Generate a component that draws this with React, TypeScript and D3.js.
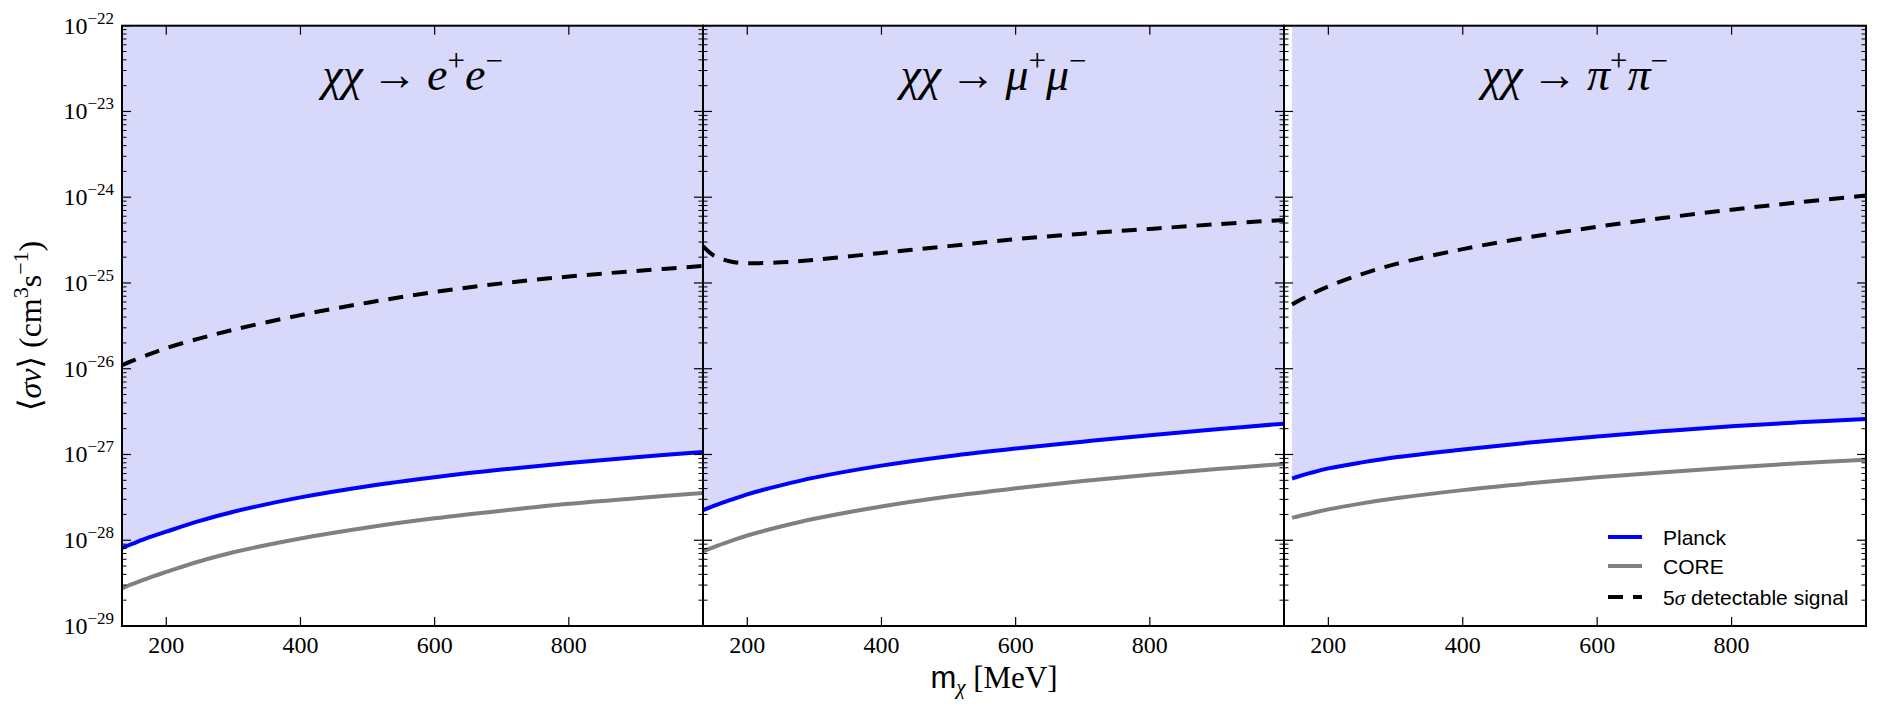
import React from "react";
import * as d3 from "d3";

// dark matter mass grid [MeV]
const MASS = [134, 150, 175, 200, 250, 300, 400, 500, 600, 700, 800, 900, 1000];
// pion channel opens a little higher
const MASS_PI = [146, 150, 175, 200, 250, 300, 400, 500, 600, 700, 800, 900, 1000];

// <sigma v> in cm^3/s
const planckEE = [8.13e-29, 9.12e-29, 1.084e-28, 1.26e-28, 1.68e-28, 2.15e-28, 3.16e-28, 4.27e-28, 5.43e-28, 6.67e-28, 7.96e-28, 9.31e-28, 1.07e-27];
const coreEE = [2.75e-29, 3.09e-29, 3.67e-29, 4.27e-29, 5.69e-29, 7.24e-29, 1.05e-28, 1.41e-28, 1.8e-28, 2.21e-28, 2.66e-28, 3.09e-28, 3.55e-28];
const signalEE = [1.1e-26, 1.24e-26, 1.48e-26, 1.74e-26, 2.26e-26, 2.85e-26, 4.22e-26, 5.89e-26, 7.85e-26, 9.89e-26, 1.19e-25, 1.38e-25, 1.58e-25];

const planckMM = [2.24e-28, 2.51e-28, 2.95e-28, 3.43e-28, 4.37e-28, 5.37e-28, 7.41e-28, 9.55e-28, 1.175e-27, 1.41e-27, 1.68e-27, 1.97e-27, 2.29e-27];
const coreMM = [7.41e-29, 8.32e-29, 9.77e-29, 1.135e-28, 1.445e-28, 1.78e-28, 2.48e-28, 3.24e-28, 4.03e-28, 4.9e-28, 5.82e-28, 6.76e-28, 7.76e-28];
const signalMM = [2.69e-25, 2.09e-25, 1.78e-25, 1.7e-25, 1.74e-25, 1.86e-25, 2.24e-25, 2.69e-25, 3.24e-25, 3.76e-25, 4.27e-25, 4.84e-25, 5.43e-25];

const planckPP = [5.25e-28, 5.37e-28, 6.14e-28, 6.89e-28, 8.09e-28, 9.29e-28, 1.143e-27, 1.38e-27, 1.62e-27, 1.875e-27, 2.14e-27, 2.37e-27, 2.6e-27];
const corePP = [1.82e-28, 1.86e-28, 2.07e-28, 2.29e-28, 2.69e-28, 3.08e-28, 3.84e-28, 4.61e-28, 5.42e-28, 6.22e-28, 7.06e-28, 7.89e-28, 8.71e-28];
const signalPP = [5.62e-26, 5.86e-26, 7.41e-26, 9.12e-26, 1.27e-25, 1.66e-25, 2.48e-25, 3.43e-25, 4.52e-25, 5.75e-25, 7.16e-25, 8.71e-25, 1.047e-24];

const X_TICKS = [200, 400, 600, 800];
const Y_DECADES = [-29, -28, -27, -26, -25, -24, -23, -22];
const LEGEND = ["Planck", "CORE", "5σ detectable signal"];

const channels = [
  { final: ["e", "e"], mass: MASS, planck: planckEE, core: coreEE, signal: signalEE },
  { final: ["μ", "μ"], mass: MASS, planck: planckMM, core: coreMM, signal: signalMM },
  { final: ["π", "π"], mass: MASS_PI, planck: planckPP, core: corePP, signal: signalPP },
];

const serif = "'Liberation Serif', 'DejaVu Serif', serif";
const sans = "'Liberation Sans', Arial, sans-serif";

export default function App() {
  const width = 1882;
  const height = 715;
  const top = 25.7;
  const bottom = 626;
  const edges = [122, 703, 1284, 1866];

  const y = d3.scaleLog().domain([1e-29, 1e-22]).range([bottom, top]);

  const minor: number[] = [];
  Y_DECADES.slice(0, -1).forEach((d) => {
    for (let k = 2; k <= 9; k++) minor.push(k * Math.pow(10, d));
  });

  const curve = d3.curveCatmullRom.alpha(0.5);

  return (
    <svg width={width} height={height} style={{ position: "absolute", left: 0, top: 0, background: "white" }}>
      <defs>
        {channels.map((c, i) => (
          <clipPath id={`clip${i}`} key={i}>
            <rect x={edges[i]} y={top} width={edges[i + 1] - edges[i]} height={bottom - top} />
          </clipPath>
        ))}
      </defs>

      {channels.map((c, i) => {
        const x0 = edges[i];
        const x1 = edges[i + 1];
        const x = d3.scaleLinear().domain([134, 1000]).range([x0, x1]);
        const pts = (vals: number[]) => c.mass.map((m, j) => [m, vals[j]] as [number, number]);
        const line = d3
          .line<[number, number]>()
          .x((d) => x(d[0]))
          .y((d) => y(d[1]))
          .curve(curve);
        const area = d3
          .area<[number, number]>()
          .x((d) => x(d[0]))
          .y0((d) => y(d[1]))
          .y1(top)
          .curve(curve);
        const cx = (x0 + x1) / 2;
        return (
          <g key={i}>
            <g clipPath={`url(#clip${i})`}>
              <path d={area(pts(c.planck)) || ""} fill="#d8d8fb" />
              <path d={line(pts(c.core)) || ""} fill="none" stroke="#808080" strokeWidth={4} />
              <path d={line(pts(c.planck)) || ""} fill="none" stroke="#0000ff" strokeWidth={4} />
              <path
                d={line(pts(c.signal)) || ""}
                fill="none"
                stroke="#000"
                strokeWidth={4}
                strokeDasharray="15 10"
              />
            </g>

            {/* reaction label */}
            <text x={cx} y={90} textAnchor="middle" fontFamily={serif} fontSize={46} fill="#000">
              <tspan fontStyle="italic">χχ</tspan>
              <tspan>{"\u2009→\u2009"}</tspan>
              <tspan fontStyle="italic">{c.final[0]}</tspan>
              <tspan dy={-19} fontSize={31}>+</tspan>
              <tspan dy={19} fontStyle="italic">{c.final[1]}</tspan>
              <tspan dy={-19} fontSize={31}>−</tspan>
            </text>

            {/* y ticks, both sides, pointing inward */}
            {Y_DECADES.map((d) => (
              <g key={`M${d}`} stroke="#000" strokeWidth={1.2}>
                <line x1={x0} x2={x0 + 9} y1={y(Math.pow(10, d))} y2={y(Math.pow(10, d))} />
                <line x1={x1} x2={x1 - 9} y1={y(Math.pow(10, d))} y2={y(Math.pow(10, d))} />
              </g>
            ))}
            {minor.map((v, k) => (
              <g key={`m${k}`} stroke="#000" strokeWidth={1}>
                <line x1={x0} x2={x0 + 4.5} y1={y(v)} y2={y(v)} />
                <line x1={x1} x2={x1 - 4.5} y1={y(v)} y2={y(v)} />
              </g>
            ))}

            {/* x ticks top and bottom */}
            {X_TICKS.map((t) => (
              <g key={t}>
                <line x1={x(t)} x2={x(t)} y1={bottom} y2={bottom - 9} stroke="#000" strokeWidth={1.2} />
                <line x1={x(t)} x2={x(t)} y1={top} y2={top + 9} stroke="#000" strokeWidth={1.2} />
                <text x={x(t)} y={653} textAnchor="middle" fontFamily={serif} fontSize={24} fill="#000">
                  {t}
                </text>
              </g>
            ))}

            <rect x={x0} y={top} width={x1 - x0} height={bottom - top} fill="none" stroke="#000" strokeWidth={2} />
          </g>
        );
      })}

      {/* y tick labels on the first panel only */}
      {Y_DECADES.map((d) => (
        <text
          key={d}
          x={114}
          y={y(Math.pow(10, d)) + 8}
          textAnchor="end"
          fontFamily={serif}
          fontSize={24}
          fill="#000"
        >
          10
          <tspan dy={-10} fontSize={17}>
            {`−${-d}`}
          </tspan>
        </text>
      ))}

      {/* axis titles */}
      <text
        transform={`translate(41,${(top + bottom) / 2}) rotate(-90)`}
        textAnchor="middle"
        fontFamily={serif}
        fontSize={32}
        fill="#000"
      >
        ⟨<tspan fontStyle="italic">σv</tspan>⟩ (cm
        <tspan dy={-13} fontSize={22}>3</tspan>
        <tspan dy={13}>s</tspan>
        <tspan dy={-13} fontSize={22}>−1</tspan>
        <tspan dy={13}>)</tspan>
      </text>

      <text x={994} y={688} textAnchor="middle" fontFamily={serif} fontSize={31} fill="#000">
        <tspan fontFamily={sans}>m</tspan>
        <tspan dy={6} fontSize={21} fontStyle="italic">χ</tspan>
        <tspan dy={-6}> [MeV]</tspan>
      </text>

      {/* legend */}
      <g>
        {LEGEND.map((label, i) => {
          const ly = [537, 566, 597][i];
          return (
            <g key={label}>
              <line
                x1={1608}
                x2={1642}
                y1={ly}
                y2={ly}
                stroke={["#0000ff", "#808080", "#000"][i]}
                strokeWidth={4}
                strokeDasharray={i === 2 ? "15 10" : undefined}
              />
              <text x={1663} y={ly + 7.5} fontFamily={sans} fontSize={21} fill="#000">
                {i === 2 ? (
                  <>
                    5<tspan fontFamily={serif} fontStyle="italic">σ</tspan> detectable signal
                  </>
                ) : (
                  label
                )}
              </text>
            </g>
          );
        })}
      </g>
    </svg>
  );
}
